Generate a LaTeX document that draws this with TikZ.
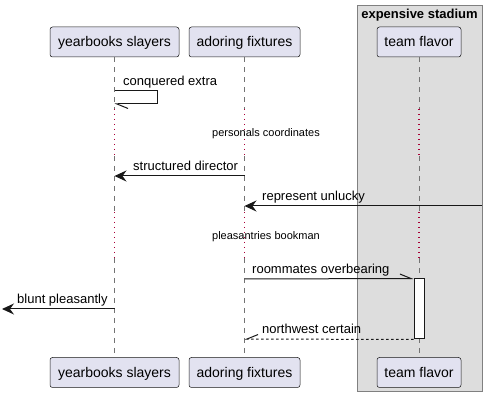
\documentclass[tikz,border=0pt]{standalone}
\usepackage{fontspec}
\setmainfont{Liberation Sans}
\usetikzlibrary{arrows.meta}

\definecolor{partfill}{HTML}{E2E2F0}
\definecolor{partline}{HTML}{181818}
\definecolor{boxfill}{HTML}{DDDDDD}
\definecolor{delayred}{HTML}{A80036}

\tikzset{
  participant/.style={draw=partline, fill=partfill, rounded corners=2.5pt, line width=0.5pt,
    minimum height=30pt, inner sep=0pt, text height=11pt, text depth=1pt,
    font=\fontsize{14}{16}\selectfont},
  lifeline/.style={black!55, line width=1pt, dash pattern=on 5pt off 5pt},
  delayline/.style={delayred, line width=1.5pt, dash pattern=on 1.5pt off 3.5pt},
  msg/.style={partline, line width=1pt},
  msgtext/.style={anchor=base west, inner sep=0pt, font=\fontsize{13}{15}\selectfont},
  delaytext/.style={anchor=base, inner sep=0pt, font=\fontsize{11}{13}\selectfont},
  full/.style={-{Stealth[length=12pt, width=11pt, inset=4pt]}},
  halfup/.style={-{Straight Barb[left, length=11pt, width=9pt]}},
  halfdown/.style={-{Straight Barb[right, length=11pt, width=9pt]}},
}

\begin{document}
\begin{tikzpicture}[x=1pt, y=-1pt]

\useasboundingbox (0,0) rectangle (488,398);

% box around the stadium

\draw[black!50, fill=boxfill, line width=1pt] (357,6) rectangle (482,392);
\node[anchor=base, inner sep=0pt, font=\bfseries\fontsize{13}{15}\selectfont] (grp) at (419.5,19) {expensive stadium};


% participants, top and bottom

\node[participant, minimum width=129pt] (p1) at (114.5,42) {yearbooks slayers};
\node[participant, minimum width=111pt] (p2) at (244.5,42) {adoring fixtures};
\node[participant, minimum width=84pt] (p3) at (419,42) {team flavor};

\node[participant, minimum width=129pt] (q1) at (114.5,372.5) {yearbooks slayers};
\node[participant, minimum width=111pt] (q2) at (244.5,372.5) {adoring fixtures};
\node[participant, minimum width=84pt] (q3) at (419,372.5) {team flavor};

% delay bands
\coordinate (d1s) at (0,109);
\coordinate (d1e) at (0,156);
\coordinate (d2s) at (0,212);
\coordinate (d2e) at (0,258);

% lifelines
\draw[lifeline] (p1.south) -- (p1 |- d1s) (p1 |- d1e) -- (p1 |- d2s) (p1 |- d2e) -- (q1.north);
\draw[lifeline] (p2.south) -- (p2 |- d1s) (p2 |- d1e) -- (p2 |- d2s) (p2 |- d2e) -- (q2.north);
\draw[lifeline] (p3.south) -- (p3 |- d1s) (p3 |- d1e) -- (p3 |- d2s) (p3 |- d2e) -- (q3.north);

\draw[delayline] (p1 |- d1s) -- (p1 |- d1e) (p1 |- d2s) -- (p1 |- d2e);
\draw[delayline] (p2 |- d1s) -- (p2 |- d1e) (p2 |- d2s) -- (p2 |- d2e);
\draw[delayline] (p3 |- d1s) -- (p3 |- d1e) (p3 |- d2s) -- (p3 |- d2e);

\node[delaytext] (dl1) at (266,137) {personals coordinates};
\node[delaytext] (dl2) at (266,240) {pleasantries bookman};

% activation on team flavor
\node[draw=partline, fill=white, line width=1pt, minimum width=10pt, minimum height=60pt, inner sep=0pt] (act) at (419,309) {};


% message rows

\coordinate (r1) at (0,91);
\coordinate (r2) at (0,176);
\coordinate (r3) at (0,206);
\coordinate (r4) at (0,279);
\coordinate (r5) at (0,309);
\coordinate (r6) at (0,339);

\coordinate (rightedge) at (482,206);
\coordinate (leftedge) at (2,309);

% messages

\draw[msg, halfup] (p1 |- r1) -- ++(43,0) -- ++(0,13) -- ++(-43,0);
\node[msgtext] (m1) at (123,86) {conquered extra};

\draw[msg, full] (p2 |- r2) -- (p1 |- r2);
\node[msgtext] (m2) at (133,171) {structured director};

\draw[msg, full] (rightedge) -- (p2 |- r3);
\node[msgtext] (m3) at (262,201) {represent unlucky};

\draw[msg, halfup] (p2 |- r4) -- (act.north west);
\node[msgtext] (m4) at (252,274) {roommates overbearing};

\draw[msg, full] (p1 |- r5) -- (leftedge);
\node[msgtext] (m5) at (17,304) {blunt pleasantly};

\draw[msg, halfdown, dash pattern=on 2.5pt off 2.5pt] (act.south west) -- (p2 |- r6);
\node[msgtext] (m6) at (262,334) {northwest certain};

\end{tikzpicture}
\end{document}
